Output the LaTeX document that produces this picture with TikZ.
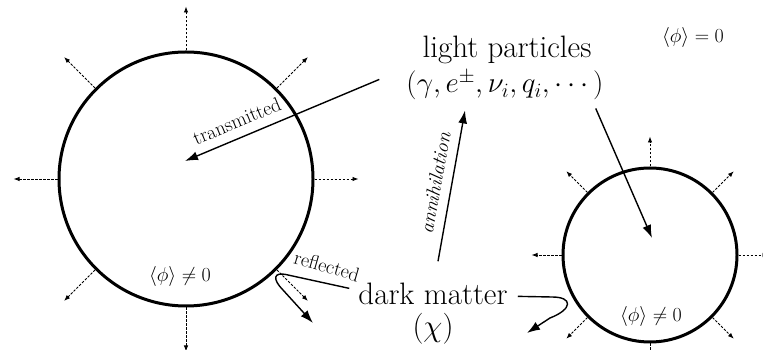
\RequirePackage{fix-cm}
\documentclass[tikz,border=0pt]{standalone}
\usepackage{amsmath}
\usetikzlibrary{arrows.meta,calc}

\begin{document}
\begin{tikzpicture}[x=1pt,y=1pt,
    bubble/.style={circle,draw,line width=3pt,inner sep=0pt},
    ray/.style={-{Latex[length=6pt,width=4.5pt]},line width=0.9pt,dash pattern=on 2.5pt off 1.5pt},
    flow/.style={-{Latex[length=13pt,width=9pt]},line width=1.4pt},
    big/.style={font=\fontsize{31}{36}\selectfont,inner sep=0pt,anchor=base},
    lbl/.style={font=\fontsize{20}{24}\selectfont,inner sep=0pt}]
  \useasboundingbox (0,0) rectangle (763,350);
  % bubbles with rays
  \node[bubble,minimum size=254] (bigc) at (186,171) {};
  \node[bubble,minimum size=174] (smallc) at (650,95) {};
  \foreach \a in {0,45,...,315}{
    \draw[ray] (bigc.\a) -- ++(\a:44);
    \draw[ray] (smallc.\a) -- ++(\a:30);
  }
  % texts
  \node[big] (lp1) at (507,292) {light particles};
  \node[big,font=\fontsize{29}{34}\selectfont] (lp2) at (505,257) {$(\gamma, e^{\pm}, \nu_i, q_i, \cdots)$};
  \node[big] (dm1) at (433,45) {dark matter};
  \node[big] (dm2) at (433,13) {$(\chi)$};
  \node[lbl,anchor=base] (vev0) at (693,307) {$\langle\phi\rangle = 0$};
  \node[lbl,anchor=base] (vevbig) at (180,68) {$\langle\phi\rangle \neq 0$};
  \node[lbl,anchor=base] (vevsmall) at (651,28) {$\langle\phi\rangle \neq 0$};
  % processes
  \draw[flow] ($(lp2.west)+(-27,6)$) -- ($(bigc.center)+(-1,18)$)
    node[lbl,sloped,above=9,pos=0.7] {transmitted};
  \draw[flow] ($(lp2.east)+(-8,-23)$) -- ($(smallc.center)+(2,17)$);
  \draw[flow] ($(dm1.north)+(5,22)$) -- ($(lp2.south)+(-40,-10)$)
    node[lbl,sloped,above=9,midway] {\itshape annihilation};
  \draw[flow] ($(dm1.west)+(-9,6)$) -- (288,75)
    .. controls (272,79) and (273,70) .. (283,60) -- (313,27);
  \node[lbl,rotate=-16] (refl) at (327,84) {reflected};
  \draw[flow] ($(dm1.east)+(10,-2)$) -- (552,53)
    .. controls (573,53) and (573,41) .. (550,32) -- (527,17);
\end{tikzpicture}
\end{document}
